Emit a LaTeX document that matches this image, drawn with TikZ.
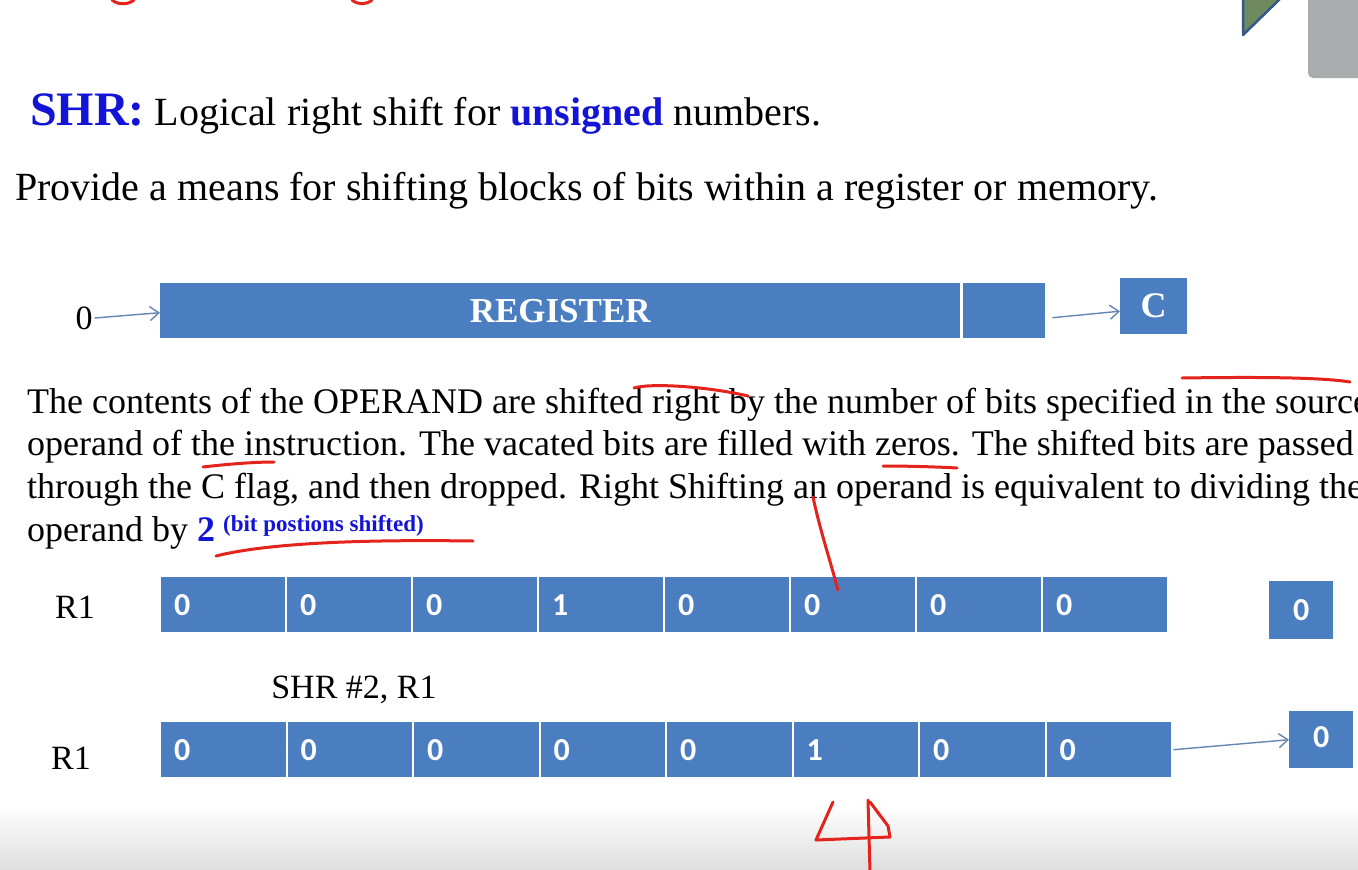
\documentclass[tikz,border=0pt]{standalone}
\usepackage{fontspec}
\setmainfont{Liberation Serif}
\newfontfamily\cellfont{Carlito}
\usetikzlibrary{arrows.meta}
\definecolor{regblue}{RGB}{74,126,193}
\definecolor{txtblue}{RGB}{20,20,215}
\definecolor{pen}{RGB}{228,36,28}
\definecolor{arrowblue}{RGB}{100,135,178}
\definecolor{slidegrey}{RGB}{168,172,172}
\definecolor{leafgreen}{RGB}{110,138,94}
\definecolor{edgeblue}{RGB}{52,88,140}

\newcommand{\fs}[1]{\fontsize{#1}{#1}\selectfont}

\begin{document}
\begin{tikzpicture}[x=1pt,y=-1pt,
  regbox/.style={fill=regblue, draw=none, inner sep=0pt, anchor=north west,
    text=white, font=\bfseries\fs{35}},
  bitcell/.style={fill=regblue, draw=none, anchor=north west, inner ysep=0pt,
    inner xsep=13pt, text width=#1pt-26pt, minimum width=#1pt, minimum height=55pt,
    align=left, text=white, font=\cellfont\bfseries\fs{32}},
  outcell/.style={fill=regblue, draw=none, anchor=north west, inner sep=0pt,
    minimum width=64pt, minimum height=58pt, text=white, font=\cellfont\bfseries\fs{32}},
  flow/.style={draw=arrowblue, line width=1.4pt, -{Straight Barb[length=9pt,width=14pt]}},
  penline/.style={draw=pen, line width=3pt, line cap=round, line join=round},
  body/.style={anchor=base west, inner sep=0pt, font=\fs{36}},
  label/.style={inner sep=0pt, font=\fs{34}}]

\useasboundingbox (0,0) rectangle (1358,870);
\clip (0,0) rectangle (1358,870);
\fill[white] (0,0) rectangle (1358,870);

% soft grey band along the lower edge
\shade[top color=white, bottom color=black!13] (0,805) rectangle (1358,870);

% corner decoration
\fill[slidegrey, rounded corners=5pt] (1308,-20) rectangle (1380,78);
\filldraw[fill=leafgreen, draw=edgeblue, line width=2.5pt, line join=round]
  (1243,-4) -- (1243,35) -- (1283,-4) -- cycle;

% heading lines
\node[anchor=base west, inner sep=0pt] (title) at (30,125)
  {\textcolor{txtblue}{\bfseries\fs{48}SHR:}\fs{40} Logical right shift for
   \textcolor{txtblue}{\bfseries unsigned} numbers.};
\node[anchor=base west, inner sep=0pt, font=\fs{40}] (intro) at (15,200)
  {Provide a means for shifting blocks of bits within a register or memory.};

% register with carry flag
\node[regbox, minimum width=800pt, minimum height=55pt] (reg) at (160,283) {REGISTER};
\node[regbox, minimum width=82pt, minimum height=55pt] (lsb) at (963,283) {};
\node[regbox, minimum width=67pt, minimum height=56pt, font=\bfseries\fs{36}] (carry) at (1120,278) {C};
\node[label] (zin) at (84,318) {0};
\draw[flow] ([xshift=2pt]zin.east) -- ([yshift=-2pt]reg.west);
\draw[flow] ([xshift=7pt,yshift=-7pt]lsb.east) -- ([yshift=-5pt]carry.west);

% description
\node[body] (p1) at (27,413) {The contents of the OPERAND are shifted right by the number of bits specified in the source};
\node[body] (p2) at (27,455) {operand of the instruction. The vacated bits are filled with zeros. The shifted bits are passed};
\node[body] (p3) at (27,498) {through the C flag, and then dropped. Right Shifting an operand is equivalent to dividing the};
\node[body] (p4) at (27,541) {operand by \textcolor{txtblue}{\bfseries 2}\hspace{8pt}\raisebox{10pt}{\textcolor{txtblue}{\bfseries\fs{23}(bit postions shifted)}}};

% R1 before the shift
\node[label] (lbla) at (75,607) {R1};
\foreach \v [count=\i from 0] in {0,0,0,1,0,0,0,0}
  \node[bitcell=124] (a\i) at (161+\i*126,577) {\v};
\node[outcell] (outa) at (1269,581) {0};

% instruction
\node[label] (instr) at (354,690) {SHR \#2, R1};

% R1 after the shift
\node[label] (lblb) at (71,758) {R1};
\foreach \v [count=\i from 0] in {0,0,0,0,0,1,0,0}
  \node[bitcell=124.5] (b\i) at (161+\i*126.5,722) {\v};
\node[outcell, minimum height=57pt] (outb) at (1289,711) {\raisebox{6pt}{0}};
\draw[flow] ([xshift=2pt]b7.east) -- (outb.west);

% pen marks
\draw[penline] (112,0) .. controls (118,5) and (128,5) .. (134,0);
\draw[penline] (352,0) .. controls (358,5) and (366,5) .. (372,0);
\draw[penline] (634,388) .. controls (650,383) and (705,386) .. (748,396);
\draw[penline] (1182,378) .. controls (1250,377) and (1320,377) .. (1350,382);
\draw[penline] (203,467) .. controls (220,465) and (250,462) .. (274,462);
\draw[penline] (883,466) .. controls (910,466) and (940,467) .. (957,468);
\draw[penline] (216,556) .. controls (280,540) and (400,540) .. (473,541);
\draw[penline] (813,497) .. controls (820,530) and (830,560) .. (838,590);
\draw[penline] (833,802) -- (816,840) -- (890,837) -- (888,826) -- (870,802);
\draw[penline] (868,800) -- (870,872);
\end{tikzpicture}
\end{document}
